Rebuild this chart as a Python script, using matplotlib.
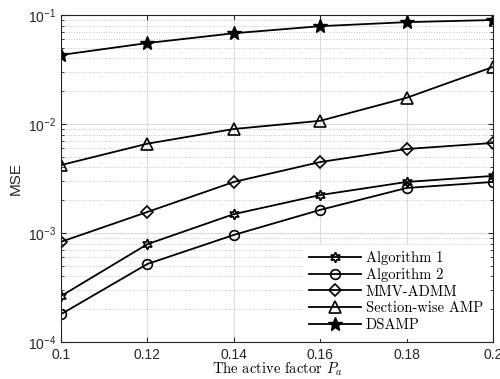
import matplotlib
matplotlib.use('Agg')
import matplotlib.pyplot as plt

plt.rcParams['mathtext.fontset'] = 'cm'
plt.rcParams['font.family'] = 'Liberation Sans'

# Data
pa = [0.10, 0.12, 0.14, 0.16, 0.18, 0.20]
alg1 = [2.64e-4, 7.9e-4, 1.49e-3, 2.23e-3, 2.94e-3, 3.34e-3]
alg2 = [1.8e-4, 5.2e-4, 9.6e-4, 1.63e-3, 2.59e-3, 2.94e-3]
mmv_admm = [8.3e-4, 1.56e-3, 2.94e-3, 4.48e-3, 5.9e-3, 6.7e-3]
sw_amp = [4.2e-3, 6.6e-3, 9.0e-3, 1.07e-2, 1.74e-2, 3.34e-2]
dsamp = [0.043, 0.0553, 0.068, 0.079, 0.086, 0.090]

labels = ['Algorithm 1', 'Algorithm 2', 'MMV-ADMM', 'Section-wise AMP', 'DSAMP']

fig = plt.figure(figsize=(5, 3.79), dpi=100)
ax = fig.add_axes([0.122, 0.0976, 0.864, 0.8628])

ax.plot(pa, alg1, color='k', lw=1.3, marker=(6, 1, 0), ms=7.5, mfc='none', mew=1.2, label=labels[0])
ax.plot(pa, alg2, color='k', lw=1.3, marker='o', ms=7, mfc='none', mew=1.2, label=labels[1])
ax.plot(pa, mmv_admm, color='k', lw=1.3, marker='D', ms=6, mfc='none', mew=1.2, label=labels[2])
ax.plot(pa, sw_amp, color='k', lw=1.3, marker='^', ms=8, mfc='none', mew=1.2, label=labels[3])
ax.plot(pa, dsamp, color='k', lw=1.3, marker='*', ms=10, mfc='k', mew=1, label=labels[4])

ax.set_yscale('log')
ax.set_xlim(0.1, 0.2)
ax.set_ylim(1e-4, 1e-1)
ax.set_xticks(pa)
ax.set_xticklabels(['0.1', '0.12', '0.14', '0.16', '0.18', '0.2'])

ax.grid(True, which='major', color='#dcdcdc', lw=0.8, ls='-')
ax.grid(True, which='minor', color='#b4b4b4', lw=0.6, ls=(0, (1, 2)))
ax.tick_params(which='both', direction='in', top=True, right=True, labelsize=10, colors='#262626')
ax.tick_params(axis='x', pad=4)
for s in ax.spines.values():
    s.set_color('#262626')
    s.set_linewidth(0.8)

ax.set_xlabel('The active factor $P_a$', fontfamily='cmr10', fontsize=10.5, labelpad=-1)
ax.set_ylabel('MSE', fontsize=11, color='#262626')

leg = ax.legend(loc='lower right', prop={'family': 'cmr10', 'size': 10.5}, frameon=True,
                edgecolor='white', framealpha=1, fancybox=False, handlelength=3.6,
                labelspacing=0.2, borderaxespad=0.3, handletextpad=0.3)

fig.savefig('out.png', dpi=100)
